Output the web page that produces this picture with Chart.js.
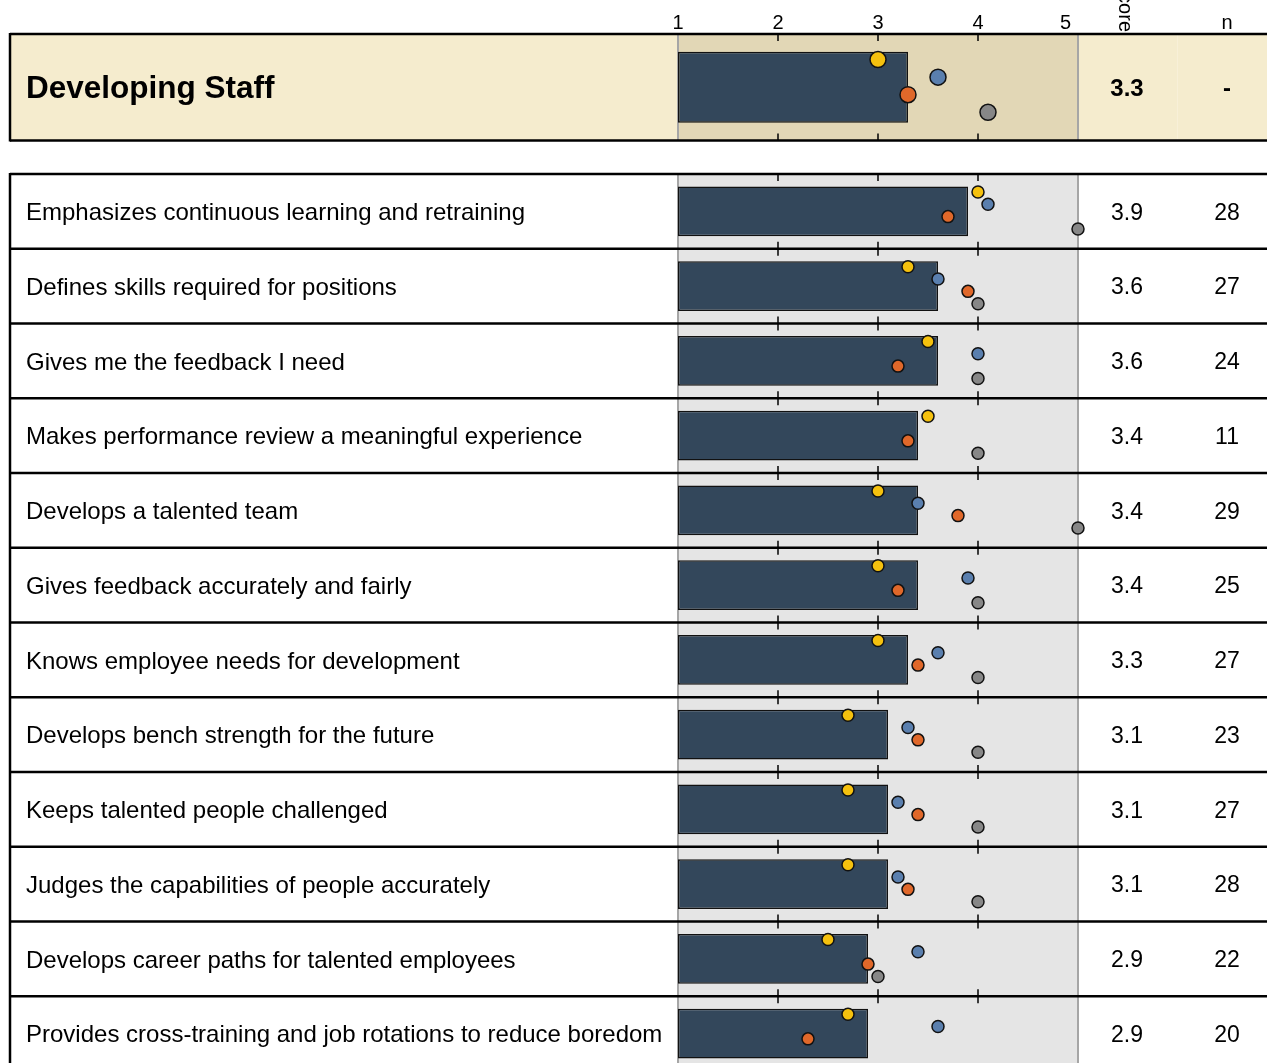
<!DOCTYPE html>
<html lang="en">
<head>
<meta charset="UTF-8">
<title>Developing Staff</title>
<script src="https://cdn.jsdelivr.net/npm/chart.js"></script>
<style>
  html, body { margin: 0; padding: 0; background: #fff; overflow: hidden; }
  canvas { position: absolute; left: 0; }
  #head { top: 0; }
  #rows { top: 164px; }
</style>
</head>
<body>
<canvas id="head" width="1267" height="150"></canvas>
<canvas id="rows" width="1267" height="917"></canvas>
<script>
// summary row
const headLabel = ['Developing Staff'];
const headScore = [3.3];
const headN = ['-'];
const headYellow = [3.0];
const headBlue = [3.6];
const headOrange = [3.3];
const headGray = [4.1];

// item rows
const items = [
  'Emphasizes continuous learning and retraining',
  'Defines skills required for positions',
  'Gives me the feedback I need',
  'Makes performance review a meaningful experience',
  'Develops a talented team',
  'Gives feedback accurately and fairly',
  'Knows employee needs for development',
  'Develops bench strength for the future',
  'Keeps talented people challenged',
  'Judges the capabilities of people accurately',
  'Develops career paths for talented employees',
  'Provides cross-training and job rotations to reduce boredom'
];
const scores = [3.9, 3.6, 3.6, 3.4, 3.4, 3.4, 3.3, 3.1, 3.1, 3.1, 2.9, 2.9];
const counts = [28, 27, 24, 11, 29, 25, 27, 23, 27, 28, 22, 20];
const yellow = [4.0, 3.3, 3.5, 3.5, 3.0, 3.0, 3.0, 2.7, 2.7, 2.7, 2.5, 2.7];
const blue   = [4.1, 3.6, 4.0, null, 3.4, 3.9, 3.6, 3.3, 3.2, 3.2, 3.4, 3.6];
const orange = [3.7, 3.9, 3.2, 3.3, 3.8, 3.2, 3.4, 3.4, 3.4, 3.3, 2.9, 2.3];
const gray   = [5.0, 4.0, 4.0, 4.0, 5.0, 4.0, 4.0, 4.0, 4.0, 4.0, 3.0, null];

const xTicks = [1, 2, 3, 4, 5];
const inner = [2, 3, 4];

const FONT = "'Liberation Sans', Arial, sans-serif";
const dotColors = ['#f5c10e', '#5a7fae', '#e0682a', '#878787'];
const dotShift = [-0.26, -0.095, 0.07, 0.235];   // vertical place of each marker within a row

function line(ctx, x1, y1, x2, y2) {
  ctx.beginPath(); ctx.moveTo(x1, y1); ctx.lineTo(x2, y2); ctx.stroke();
}

const frame = {
  id: 'frame',
  beforeDatasetsDraw(chart, args, o) {
    const { ctx, chartArea: a, scales: { x } } = chart;
    ctx.save();
    if (o.band) {
      ctx.fillStyle = o.band;
      ctx.fillRect(10, a.top, chart.width - 10, a.bottom - a.top);
      ctx.strokeStyle = '#f8f0d8';
      ctx.lineWidth = 1;
      line(ctx, a.right + 99.5, a.top, a.right + 99.5, a.bottom);
    }
    ctx.fillStyle = o.plot;
    ctx.fillRect(a.left, a.top, a.right - a.left, a.bottom - a.top);
    ctx.strokeStyle = '#a6a6a6';
    ctx.lineWidth = 2;
    [xTicks[0], xTicks[xTicks.length - 1]].forEach(v => {
      const px = x.getPixelForValue(v);
      line(ctx, px, a.top, px, a.bottom);
    });
    ctx.restore();
  },
  afterDatasetsDraw(chart, args, o) {
    const { ctx, chartArea: a, scales: { x, y } } = chart;
    const n = o.labels.length;
    ctx.save();
    ctx.strokeStyle = '#000';
    for (let i = 0; i <= n; i++) {
      const py = y.getPixelForValue(i - 0.5);
      ctx.lineWidth = 2.5;
      line(ctx, 10, py, chart.width, py);
      ctx.lineWidth = 1.5;
      inner.forEach(v => {
        const px = x.getPixelForValue(v);
        line(ctx, px, Math.max(a.top, py - 7), px, Math.min(a.bottom, py + 7));
      });
    }
    ctx.lineWidth = 2.5;
    line(ctx, 10, a.top - 1, 10, a.bottom + 1);

    ctx.fillStyle = '#000';
    ctx.textBaseline = 'middle';
    for (let i = 0; i < n; i++) {
      const py = y.getPixelForValue(i) + 2;
      ctx.textAlign = 'left';
      ctx.font = (o.bold ? 'bold ' : '') + o.labelSize + 'px ' + FONT;
      ctx.fillText(o.labels[i], 26, py);
      ctx.textAlign = 'center';
      ctx.font = (o.bold ? 'bold 24px ' : '23px ') + FONT;
      ctx.fillText(o.score[i].toFixed(1), a.right + 49, py);
      ctx.fillText(String(o.n[i]), a.right + 149, py);
    }
    if (o.header) {
      ctx.font = '20px ' + FONT;
      ctx.textBaseline = 'alphabetic';
      xTicks.forEach((v, k) => {
        const last = k === xTicks.length - 1;
        ctx.textAlign = last ? 'right' : 'center';
        ctx.fillText(String(v), x.getPixelForValue(v) - (last ? 7 : 0), a.top - 5);
      });
      ctx.textAlign = 'center';
      ctx.fillText('n', a.right + 149, a.top - 5);
      ctx.translate(a.right + 47, a.top - 2);
      ctx.rotate(Math.PI / 2);
      ctx.textAlign = 'right';
      ctx.textBaseline = 'middle';
      ctx.fillText('Score', 0, 0);
    }
    ctx.restore();
  }
};

function dotSet(values, k, r) {
  const pts = [];
  values.forEach((v, i) => { if (v != null) pts.push({ x: v, y: i + dotShift[k] }); });
  return {
    type: 'scatter',
    data: pts,
    clip: false,
    backgroundColor: dotColors[k],
    borderColor: '#111',
    borderWidth: 1.5,
    pointRadius: r,
    pointHoverRadius: r,
    order: 4 - k
  };
}

function build(id, labels, vals, counts, dots, opts) {
  const n = labels.length;
  new Chart(document.getElementById(id), {
    type: 'bar',
    data: {
      datasets: [
        {
          data: vals.map((v, i) => ({ x: [xTicks[0], v], y: i })),
          backgroundColor: '#33475b',
          borderColor: '#111',
          borderWidth: 1.5,
          borderSkipped: false,
          barPercentage: 0.667,
          categoryPercentage: 1,
          order: 5
        },
        ...dots.map((d, k) => dotSet(d, k, opts.r))
      ]
    },
    options: {
      indexAxis: 'y',
      responsive: false,
      animation: false,
      events: [],
      layout: { padding: { left: 678, right: 189, top: opts.padTop, bottom: opts.padBottom } },
      plugins: {
        legend: { display: false },
        tooltip: { enabled: false },
        frame: Object.assign({ labels: labels, score: vals, n: counts }, opts.frame)
      },
      scales: {
        x: {
          type: 'linear',
          display: false,
          min: xTicks[0],
          max: xTicks[xTicks.length - 1]
        },
        y: {
          type: 'linear',
          display: false,
          offset: false,
          reverse: true,
          min: -0.5,
          max: n - 0.5,
          afterBuildTicks: s => { s.ticks = labels.map((_, i) => ({ value: i })); }
        }
      }
    },
    plugins: [frame]
  });
}

build('head', headLabel, headScore, headN,
  [headYellow, headBlue, headOrange, headGray],
  { r: 8, padTop: 34, padBottom: 8,
    frame: { band: '#f5ecce', plot: '#e2d7b6', bold: true, header: true, labelSize: 31.5 } });

build('rows', items, scores, counts,
  [yellow, blue, orange, gray],
  { r: 6, padTop: 10, padBottom: 10,
    frame: { band: null, plot: '#e5e5e5', bold: false, header: false, labelSize: 24 } });
</script>
</body>
</html>
